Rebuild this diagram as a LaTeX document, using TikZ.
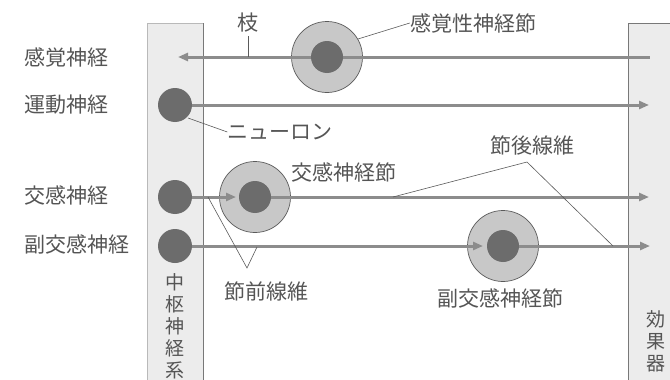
\documentclass[tikz,border=0pt]{standalone}
\usepackage{fontspec}
\setmainfont{Noto Sans CJK JP}
\usetikzlibrary{arrows.meta}
\definecolor{txt}{RGB}{85,85,85}
\definecolor{axon}{RGB}{140,140,140}
\definecolor{cellfill}{RGB}{108,108,108}
\definecolor{ganfill}{RGB}{200,200,200}
\definecolor{ganline}{RGB}{90,90,90}
\definecolor{colfill}{RGB}{236,236,236}
\definecolor{colline}{RGB}{120,120,120}
\definecolor{collight}{RGB}{185,185,185}
\tikzset{
  lbl/.style={text=txt, font=\fontsize{21}{23}\selectfont, inner sep=0pt},
  vlbl/.style={text=txt, font=\fontsize{19}{22}\selectfont, inner sep=0pt, align=center},
  neuron/.style={circle, fill=cellfill, draw=none, minimum size=34pt, inner sep=0pt},
  core/.style={circle, fill=cellfill, draw=none, minimum size=32pt, inner sep=0pt},
  ganglion/.style={circle, fill=ganfill, draw=ganline, line width=0.7pt, minimum size=71pt, inner sep=0pt},
  fiber/.style={draw=axon, line width=3pt},
  fiberarrow/.style={fiber, -{Triangle[length=10pt,width=8pt]}},
  leader/.style={draw=ganline, line width=0.6pt},
  column/.style={fill=colfill, draw=none},
  coledge/.style={draw=colline, line width=0.8pt}
}
\begin{document}
\begin{tikzpicture}[x=1pt,y=-1pt]
\useasboundingbox (0,0) rectangle (670,380);
% columns
\path[column] (147,23) rectangle (203,385);
\draw[draw=collight, line width=0.8pt] (147,385) -- (147,23) -- (203,23);
\draw[coledge] (203,23) -- (203,385);
\path[column] (628,23) rectangle (680,385);
\draw[coledge] (628,385) -- (628,23) -- (680,23);
\node[vlbl, anchor=north] (cns) at (175,273) {中\\枢\\神\\経\\系};
\node[vlbl, anchor=north] (eff) at (656,310) {効\\果\\器};
% ganglia outer
\node[ganglion] (gs) at (327,57) {};
\node[ganglion] (gy) at (255,197) {};
\node[ganglion] (gp) at (503,246) {};
% neurons and cores
\node[neuron] (nm) at (175,105) {};
\node[neuron] (ny) at (175,197) {};
\node[neuron] (np) at (175,246) {};
\node[core] (cs) at (327,57) {};
\node[core] (cy) at (255,197) {};
\node[core] (cp) at (503,246) {};
% end coordinates
\coordinate (es) at (650,57);
\coordinate (ss) at (178,57);
\coordinate (em) at (649,105);
\coordinate (ey) at (649,197);
\coordinate (ep) at (650,246);
\coordinate (py) at (236,197);
\coordinate (pp) at (483,246);
% fibers
\draw[fiber] (cs) -- (es);
\draw[fiberarrow] (cs) -- (ss);
\draw[fiberarrow] (nm) -- (em);
\draw[fiberarrow] (ny) -- (py);
\draw[fiberarrow] (cy) -- (ey);
\draw[fiberarrow] (np) -- (pp);
\draw[fiberarrow] (cp) -- (ep);
% labels
\node[lbl, anchor=west] (l1) at (24,57) {感覚神経};
\node[lbl, anchor=west] (l2) at (24,105) {運動神経};
\node[lbl, anchor=west] (l3) at (24,195) {交感神経};
\node[lbl, anchor=west] (l4) at (24,244) {副交感神経};
\node[lbl] (branch) at (248,23) {枝};
\node[lbl] (sgl) at (473,23) {感覚性神経節};
\node[lbl] (neu) at (280,132) {ニューロン};
\node[lbl] (ygl) at (344,172) {交感神経節};
\node[lbl] (post) at (532,145) {節後線維};
\node[lbl] (pre) at (266,291) {節前線維};
\node[lbl] (pgl) at (500,298) {副交感神経節};
% leader lines
\coordinate (bt) at (248,57);
\draw[leader] (branch.south |- 0,36) -- (bt);
\coordinate (sgp) at (358,39);
\draw[leader] (sgp) -- (sgl.west);
\coordinate (nmp) at (188,118);
\draw[leader] (nmp) -- (neu.west);
\coordinate (pa) at (247,268);
\coordinate (pa1) at (208,197);
\coordinate (pa2) at (257,247);
\draw[leader] (pa1) -- (pa) -- (pa2);
\coordinate (qa) at (527,162);
\coordinate (qa1) at (393,197);
\coordinate (qa2) at (613,246);
\draw[leader] (qa1) -- (qa) -- (qa2);
\end{tikzpicture}
\end{document}
